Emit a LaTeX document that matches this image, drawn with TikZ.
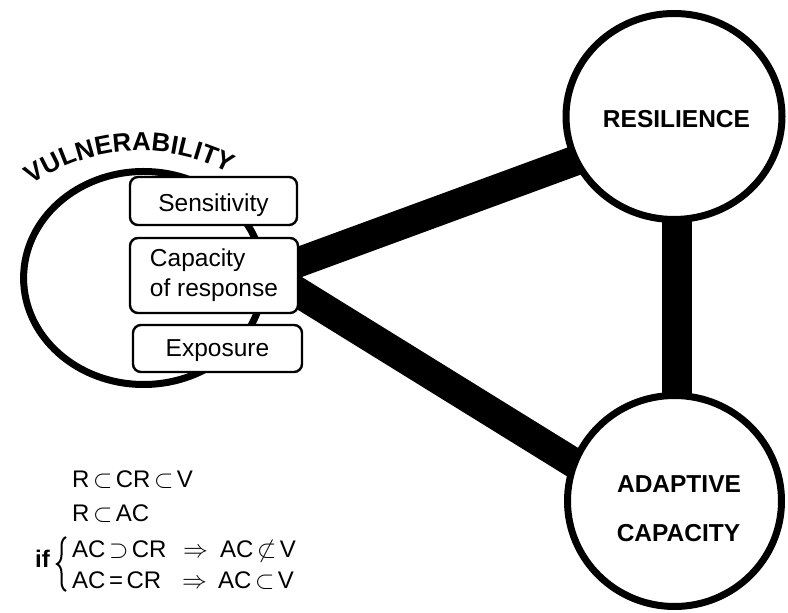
\documentclass[tikz,border=0pt]{standalone}
\usepackage{fontspec}
\setmainfont{Liberation Sans}
\usetikzlibrary{shapes.geometric,decorations.text,decorations.pathreplacing}
\pgfdeclarelayer{bg}
\pgfsetlayers{bg,main}
\newcommand\relsub{\kern3.5pt$\subset$\kern3.5pt}
\newcommand\relsup{\kern3.5pt$\supset$\kern3.5pt}
\newcommand\relnsub{\kern3.5pt$\not\subset$\kern3.5pt}
\begin{document}
\begin{tikzpicture}[x=1pt,y=1pt,
  ring/.style={draw, ellipse, line width=7pt, fill=white, inner sep=0pt},
  part/.style={draw, rounded corners=8pt, line width=2.4pt, fill=white, inner sep=0pt,
    font=\fontsize{24.5}{30}\selectfont},
  band/.style={line width=30pt, line cap=butt, shorten <=-20pt, shorten >=-20pt},
  head/.style={font=\bfseries\fontsize{24.5}{30}\selectfont, anchor=base, inner sep=0pt},
  rel/.style={font=\fontsize{24}{30}\selectfont, anchor=base west, inner sep=0pt}
]
\useasboundingbox (0,0) rectangle (788,613);

% vulnerability ring and its components
\node[ring, fill=none, minimum width=240pt, minimum height=213pt] (vul) at (143.6,335) {};
\coordinate (arcc) at (140,273.5);
\path[decorate, decoration={text along path,
      text={|\bfseries\fontsize{26}{26}\selectfont|VULNERABILITY},
      text align=center}]
  (arcc) ++(127:188.6) arc[start angle=127, end angle=59.6, radius=188.6];

\node[part, minimum width=167pt, minimum height=48pt, text height=21pt, text depth=0pt]
  (sens) at (213.5,412) {Sensitivity};
\node[part, minimum width=168pt, minimum height=75pt, align=left]
  (cap) at (214,337.5) {Capacity\\of response};
\node[part, minimum width=169pt, minimum height=47pt, text height=16.6pt, text depth=0pt]
  (expo) at (217.5,264.5) {Exposure};

% resilience and adaptive capacity
\node[ring, minimum width=216pt, minimum height=206pt] (res) at (674,496.5) {};
\node[ring, minimum width=214pt, minimum height=211pt] (ada) at (674.5,112) {};
\node[head] (resT) at (676.5,485) {RESILIENCE};
\node[head] (adaT) at (679,120) {ADAPTIVE};
\node[head] (adaB) at (678.5,71) {CAPACITY};

% thick links between the parts
\begin{pgfonlayer}{bg}
  \draw[band] ([yshift=13.5pt]cap.east) -- (res.204.8);
  \draw[band] ([yshift=-17.5pt]cap.east) -- (ada.159.1);
  \draw[band] ([xshift=3pt]res.center) -- ([xshift=2.5pt]ada.center);
\end{pgfonlayer}

% set relations
\node[rel] (e1) at (72,125) {R\relsub CR\relsub V};
\node[rel] (e2) at (72,91) {R\relsub AC};
\node[rel] (e3a) at (72,55) {AC\relsup CR};
\node[rel] (e3b) at (183,55) {$\Rightarrow$};
\node[rel] (e3c) at (220,55) {AC\relnsub V};
\node[rel] (e4a) at (72,24) {AC\kern3.5pt=\kern3.5pt CR};
\node[rel] (e4b) at (182,24) {$\Rightarrow$};
\node[rel] (e4c) at (218,24) {AC\relsub V};
\node[rel, font=\bfseries\fontsize{24}{30}\selectfont] (iff) at (35,45) {if};
\coordinate (brb) at (66,22);
\coordinate (brt) at (66,76);
\draw[line width=2pt, decorate, decoration={brace, amplitude=9pt}] (brb) -- (brt);
\end{tikzpicture}
\end{document}
